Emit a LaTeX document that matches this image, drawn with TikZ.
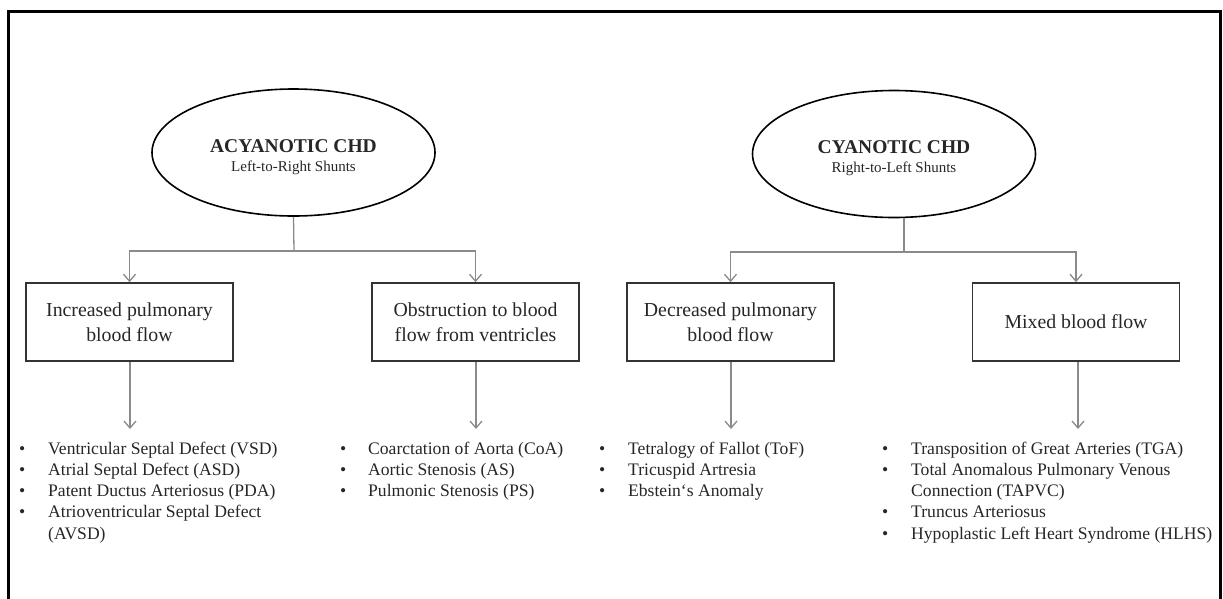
\documentclass[tikz,border=0pt]{standalone}
\usepackage{fontspec}
\setmainfont{Liberation Serif}
\usetikzlibrary{arrows.meta,shapes.geometric}

\definecolor{ink}{HTML}{262626}
\definecolor{wire}{HTML}{8A8A8A}
\definecolor{edge}{HTML}{333333}

\tikzset{
  hub/.style={ellipse, draw=black, line width=1.6pt, minimum width=283pt, minimum height=127pt, inner sep=0pt},
  hubtitle/.style={font=\fontsize{19.5}{22}\selectfont\bfseries, text=ink, inner sep=0pt, anchor=base},
  hubsub/.style={font=\fontsize{15}{18}\selectfont, text=ink, inner sep=0pt, anchor=base},
  groupbox/.style={rectangle, draw=edge, line width=1.6pt, minimum width=207pt, minimum height=78pt,
    align=center, font=\fontsize{19.8}{24.5}\selectfont, text=ink, inner sep=0pt},
  wireline/.style={draw=wire, line width=1.3pt},
  wirearrow/.style={wireline, -{Straight Barb[length=7pt,width=12pt]}},
  itemlist/.style={font=\fontsize{17.6}{21.3}\selectfont, text=ink, inner sep=0pt, anchor=base west}
}

\begin{document}
\begin{tikzpicture}[x=1pt,y=-1pt]
  \useasboundingbox (0,0) rectangle (1223,598);

  % outer frame, open at the bottom edge of the page
  \draw[line width=2.6pt, black] (8.7,600) -- (8.7,11.3) -- (1220.5,11.3) -- (1220.5,600);

  % top-level categories
  \node[hub] (acy) at (293.5,152.5) {};
  \node[hubtitle] (acyT) at (293.5,152) {ACYANOTIC CHD};
  \node[hubsub] (acyS) at (293.5,171) {Left-to-Right Shunts};

  \node[hub] (cya) at (894,154) {};
  \node[hubtitle] (cyaT) at (894,153) {CYANOTIC CHD};
  \node[hubsub] (cyaS) at (894,172) {Right-to-Left Shunts};

  % haemodynamic groups
  \node[groupbox] (inc) at (129.5,322) {Increased pulmonary\\blood flow};
  \node[groupbox] (obs) at (475.5,322) {Obstruction to blood\\flow from ventricles};
  \node[groupbox] (dec) at (730.5,322) {Decreased pulmonary\\blood flow};
  \node[groupbox] (mix) at (1076,322) {Mixed blood flow};

  % lesion lists
  \node[itemlist] (incL) at (19,454) {\begin{tabular}[t]{@{}p{29pt}@{}l@{}}
    \textbullet & Ventricular Septal Defect (VSD)\\
    \textbullet & Atrial Septal Defect (ASD)\\
    \textbullet & Patent Ductus Arteriosus (PDA)\\
    \textbullet & Atrioventricular Septal Defect\\
                & (AVSD)
  \end{tabular}};
  \node[itemlist] (obsL) at (340,454) {\begin{tabular}[t]{@{}p{28pt}@{}l@{}}
    \textbullet & Coarctation of Aorta (CoA)\\
    \textbullet & Aortic Stenosis (AS)\\
    \textbullet & Pulmonic Stenosis (PS)
  \end{tabular}};
  \node[itemlist] (decL) at (599,454) {\begin{tabular}[t]{@{}p{29pt}@{}l@{}}
    \textbullet & Tetralogy of Fallot (ToF)\\
    \textbullet & Tricuspid Artresia\\
    \textbullet & Ebstein‘s Anomaly
  \end{tabular}};
  \node[itemlist] (mixL) at (882,454) {\begin{tabular}[t]{@{}p{29pt}@{}l@{}}
    \textbullet & Transposition of Great Arteries (TGA)\\
    \textbullet & Total Anomalous Pulmonary Venous\\
                & Connection (TAPVC)\\
    \textbullet & Truncus Arteriosus\\
    \textbullet & Hypoplastic Left Heart Syndrome (HLHS)
  \end{tabular}};

  % branching connectors
  \coordinate (busL) at (294,251);
  \coordinate (busR) at (904,252);
  \draw[wireline] (acy.south) -- (busL);
  \draw[wirearrow] (busL) -| (inc.north);
  \draw[wirearrow] (busL) -| (obs.north);
  \draw[wireline] (busR |- cya.south) -- (busR);
  \draw[wirearrow] (busR) -| (dec.north);
  \draw[wirearrow] (busR) -| (mix.north);

  % arrows down to the lists
  \coordinate (incE) at (130,429);
  \coordinate (obsE) at (476,429);
  \coordinate (decE) at (731,429);
  \coordinate (mixE) at (1078,429);
  \draw[wirearrow] (inc.south -| incE) -- (incE);
  \draw[wirearrow] (obs.south -| obsE) -- (obsE);
  \draw[wirearrow] (dec.south -| decE) -- (decE);
  \draw[wirearrow] (mix.south -| mixE) -- (mixE);
\end{tikzpicture}
\end{document}
